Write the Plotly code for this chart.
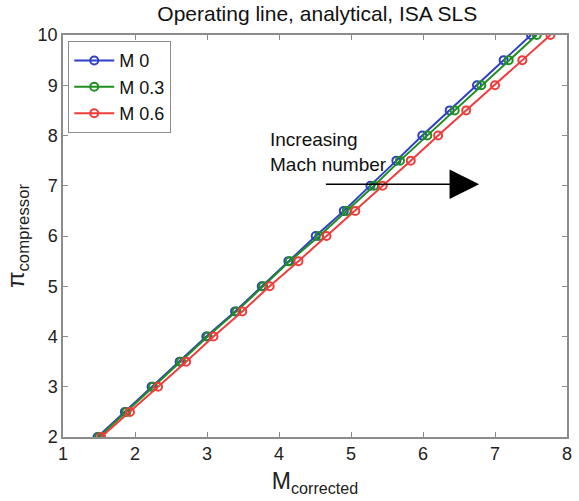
import plotly.graph_objects as go

pi_c = [2, 2.5, 3, 3.5, 4, 4.5, 5, 5.5, 6, 6.5, 7, 7.5, 8, 8.5, 9, 9.5, 10]
m_00 = [1.48, 1.86, 2.23, 2.62, 2.99, 3.39, 3.76, 4.13, 4.51, 4.90, 5.27, 5.63, 5.99, 6.37, 6.75, 7.12, 7.50]
m_03 = [1.50, 1.88, 2.25, 2.64, 3.01, 3.41, 3.78, 4.15, 4.56, 4.94, 5.32, 5.68, 6.06, 6.44, 6.81, 7.19, 7.58]
m_06 = [1.53, 1.93, 2.32, 2.71, 3.09, 3.49, 3.87, 4.27, 4.66, 5.06, 5.44, 5.83, 6.21, 6.60, 7.00, 7.38, 7.77]
series_names = ["M 0", "M 0.3", "M 0.6"]
colors = ["#2e3fc8", "#1f8f1f", "#f03c3c"]

FONT = "Liberation Sans, Arial, sans-serif"
fig = go.Figure()
for name, xs, c in zip(series_names, [m_00, m_03, m_06], colors):
    fig.add_trace(go.Scatter(
        x=xs, y=pi_c, name=name, mode="lines+markers",
        line=dict(color=c, width=2),
        marker=dict(symbol="circle-open", size=8, color=c, line=dict(width=2, color=c)),
    ))

fig.add_annotation(x=3.85, y=7.67, xref="x", yref="y", text="Increasing<br>Mach number",
                   showarrow=False, xanchor="left", yanchor="middle", align="left",
                   font=dict(family=FONT, size=19, color="#111"))
fig.add_annotation(x=6.78, y=7.03, ax=4.63, ay=7.03, xref="x", yref="y", axref="x", ayref="y",
                   text="", showarrow=True, arrowhead=2, arrowsize=3.7, arrowwidth=1.6,
                   arrowcolor="#000")

axis_common = dict(showline=True, linecolor="#8c8c8c", linewidth=1.5, mirror="ticks",
                   ticks="inside", ticklen=5, tickcolor="#8c8c8c", showgrid=False, zeroline=False,
                   tickfont=dict(family=FONT, size=18, color="#222"))
fig.update_xaxes(range=[1, 8], dtick=1, tick0=1,
                 title=dict(text="M<sub>corrected</sub>", font=dict(family=FONT, size=23, color="#222"), standoff=10),
                 **axis_common)
fig.update_yaxes(range=[2, 10], dtick=1, tick0=2,
                 title=dict(text="π<sub>compressor</sub>", font=dict(family=FONT, size=24, color="#222"), standoff=6),
                 **axis_common)

fig.update_layout(
    width=579, height=501,
    margin=dict(l=63, r=7, t=35, b=64),
    paper_bgcolor="white", plot_bgcolor="white",
    title=dict(text="Operating line, analytical, ISA SLS", x=0.548, xanchor="center", y=0.972, yanchor="middle",
               font=dict(family=FONT, size=21, color="#111")),
    legend=dict(x=0.01, y=0.985, xanchor="left", yanchor="top", bgcolor="white",
                bordercolor="#8c8c8c", borderwidth=1.2,
                font=dict(family=FONT, size=18, color="#111"), tracegroupgap=0, itemwidth=40),
    showlegend=True,
)
fig.write_html("out.html")
